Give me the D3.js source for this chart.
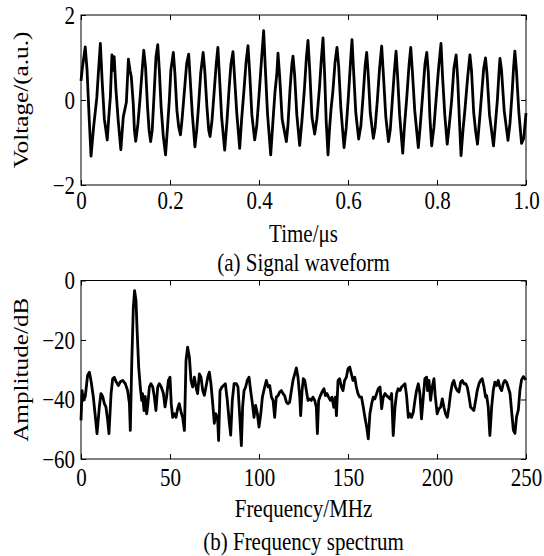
<!DOCTYPE html>
<html><head><meta charset="utf-8">
<script src="https://cdn.jsdelivr.net/npm/d3@7/dist/d3.min.js"></script>
<style>
html,body{margin:0;padding:0;background:#fff;}
text{font-family:"Liberation Serif","Times New Roman",serif;fill:#000;}
</style></head>
<body><svg id="c" width="544" height="556"></svg>
<script>
// ---- (a) Signal waveform ----
const timeUs = [0,.003,.0095,.0135,.0185,.0225,.0285,.0355,.0385,.0435,.0475,.0525,.059,.0625,.066,.0695,.072,.0745,.0785,.0835,.0895,.095,.102,.1065,.11,.113,.1175,.12,.123,.128,.133,.1375,.141,.145,.1495,.153,.1565,.16,.164,.1685,.1725,.176,.18,.185,.19,.1945,.1985,.202,.2075,.211,.2155,.2195,.2235,.227,.232,.2375,.242,.2455,.25,.256,.26,.264,.269,.2745,.278,.283,.287,.29,.2945,.299,.304,.3076,.311,.316,.3229,.328,.333,.337,.3416,.345,.35,.3566,.361,.366,.371,.3753,.379,.384,.3903,.395,.4,.406,.4105,.414,.419,.4263,.431,.436,.44,.4427,.4465,.452,.4615,.465,.47,.474,.4764,.48,.485,.4914,.496,.502,.5065,.5101,.514,.519,.5251,.53,.536,.54,.5439,.5475,.551,.5551,.558,.562,.566,.571,.5753,.579,.584,.5911,.596,.601,.606,.609,.6125,.6175,.624,.629,.634,.6385,.642,.6455,.65,.657,.661,.666,.671,.6757,.6795,.685,.691,.695,.699,.704,.708,.7115,.716,.723,.727,.732,.737,.741,.7445,.75,.758,.762,.768,.773,.777,.7805,.784,.788,.793,.799,.804,.809,.8125,.8175,.823,.8275,.833,.838,.843,.8465,.8505,.854,.8585,.863,.869,.874,.8775,.8825,.887,.891,.895,.9,.905,.909,.9125,.918,.927,.931,.936,.939,.9415,.945,.951,.9595,.964,.969,.972,.975,.9785,.984,.99,.995,1.0];
const voltage = [0.45,0.75,1.25,0.72,-0.45,-1.32,-0.62,0.05,0.55,1.33,0.45,-0.45,-0.94,-0.39,0.08,1.06,0.70,1.02,0.25,-0.47,-1.17,-0.40,-0.05,0.96,0.70,0.55,-0.10,-0.70,-0.97,-0.55,0.08,0.71,1.17,0.78,-0.16,-0.71,-0.98,-0.71,0.08,1.02,1.30,0.71,-0.16,-0.86,-1.29,-0.63,0.00,0.71,1.12,0.63,-0.24,-0.63,-0.82,-0.47,0.16,0.86,1.08,0.47,-0.31,-1.10,-0.71,-0.16,0.63,1.12,0.71,-0.16,-0.71,-0.86,-0.47,0.16,0.86,1.24,0.60,-0.40,-1.18,-0.50,0.30,0.85,1.14,0.55,-0.30,-1.14,-0.45,0.20,0.90,1.28,0.65,-0.35,-0.94,-0.60,0.10,1.00,1.63,0.80,-0.30,-1.29,-0.55,0.20,0.60,1.10,0.55,-0.45,-0.98,-0.60,0.30,0.85,1.03,0.60,-0.35,-1.07,-0.55,0.25,1.00,1.40,0.70,-0.40,-0.80,-0.45,0.30,0.95,1.46,0.60,-0.50,-1.29,-0.75,-0.20,0.20,0.90,1.24,0.80,-0.20,-1.12,-0.65,0.10,0.95,1.42,0.70,-0.30,-0.92,-0.60,0.10,0.80,1.12,0.60,-0.30,-0.90,-0.65,0.00,0.75,1.27,0.60,-0.40,-0.98,-0.70,-0.10,0.65,1.15,0.55,-0.35,-1.25,-0.60,0.05,0.80,1.24,0.70,-0.25,-1.12,-0.65,0.15,0.85,1.12,0.65,-0.40,-1.08,-0.65,0.15,0.80,1.33,0.55,-0.35,-1.04,-0.60,0.00,0.75,1.06,0.50,-0.50,-1.31,-0.70,-0.20,0.55,1.06,0.70,-0.30,-0.75,-1.04,-0.55,0.10,0.75,0.99,0.60,-0.35,-1.08,-0.60,0.05,0.60,0.98,0.70,-0.25,-0.95,-0.55,0.20,0.75,1.15,0.70,-0.30,-1.02,-0.90,-0.31];
const timeTicks = [0,0.2,0.4,0.6,0.8,1.0];
const voltTicks = [-2,0,2];

// ---- (b) Frequency spectrum ----
const freqMHz = [0,0.6,1.3,2.4,3.7,4.7,5.6,6.9,8.1,9.0,10.3,11.2,12.2,13.1,14.0,15.0,15.7,16.9,17.8,18.7,19.7,21.0,22.1,23.4,24.9,26.2,27.2,27.7,28.5,29.4,30.1,30.9,31.6,32.4,33.3,34.1,34.6,35.4,36.1,36.9,37.6,38.4,39.3,40.3,41.2,42.1,43.1,44.0,45.1,46.3,47.2,48.1,49.1,50.0,50.7,51.5,52.4,53.4,54.3,55.2,56.2,57.1,58.1,59.0,59.9,60.9,61.8,62.7,63.7,64.6,65.5,66.5,67.4,68.4,69.3,70.2,71.2,72.1,73.0,74.0,74.9,75.8,76.8,77.3,78.1,79.2,81.1,82.2,83.2,84.1,85.0,86.0,87.3,88.2,89.1,90.1,90.8,91.6,92.5,93.4,94.4,95.3,96.3,97.2,98.1,99.1,100.0,101.0,101.9,103.2,104.1,105.1,106.0,107.0,107.9,108.8,109.7,110.7,111.6,112.6,113.5,114.4,115.4,116.3,117.2,118.2,119.1,120.1,121.0,121.9,122.9,123.4,124.2,124.9,125.7,126.6,127.5,128.5,129.4,130.3,131.3,132.2,132.8,133.5,134.5,135.4,136.5,137.3,138.2,139.1,140.1,141.0,142.0,142.9,143.5,144.4,145.3,146.3,147.2,148.1,149.1,150.0,151.0,151.9,152.8,153.8,154.7,155.6,156.6,157.6,158.6,159.5,160.5,161.4,162.3,163.3,164.2,165.1,166.1,167.0,168.0,168.9,169.8,170.8,171.7,172.6,173.6,174.5,175.4,176.4,177.3,178.2,179.2,180.1,181.0,182.0,182.9,183.9,184.8,185.7,186.7,187.6,188.5,189.5,190.4,191.3,192.3,193.2,194.2,194.7,195.5,196.4,197.3,198.3,199.0,200.1,201.1,202.0,203.0,203.9,204.8,205.8,206.7,207.6,208.6,209.5,210.4,211.4,212.3,213.3,214.2,215.1,216.1,217.0,217.9,218.9,219.8,220.7,221.7,222.6,223.6,224.5,225.4,226.4,227.3,227.9,228.8,229.7,230.7,231.6,232.5,233.5,234.4,235.3,236.3,237.2,238.1,239.1,241.0,242.9,243.8,244.7,245.7,246.6,247.5,248.5,250.0];
const amplitudeDb = [-47,-37,-40.3,-39,-31.9,-30.8,-33.6,-39,-46,-51.5,-42.5,-38,-39,-41.4,-42.5,-47,-51.5,-38,-33,-32.5,-34,-35.3,-34,-33.6,-34.7,-37,-41.4,-50.4,-28,-9,-3.4,-6.7,-18,-29,-35.8,-40.3,-38,-43.7,-39,-44.8,-41.4,-35.8,-34.7,-35.8,-39,-43.7,-35.8,-34.7,-35.8,-38,-42.5,-39,-33.6,-32.5,-41.4,-46,-44.8,-46,-43,-41.4,-44.2,-46,-50.4,-26.9,-22.4,-25.8,-33.6,-35.8,-32.5,-35.8,-38,-31.4,-32.5,-37,-38.6,-35.8,-32.5,-30.8,-34.7,-41.4,-48,-44.8,-47,-53.8,-37,-35.8,-34.7,-40.3,-47,-52,-40.3,-34.7,-34.7,-35.8,-44.8,-55.5,-42.6,-37,-35.8,-33.6,-32.5,-37,-41.4,-46,-42,-44.8,-49.3,-44.8,-39.2,-35.8,-33.6,-35.8,-35.3,-39.2,-40.3,-46,-39.2,-38.7,-37.5,-37,-38,-38.7,-40.9,-41.4,-40.9,-37,-33.6,-31.4,-29.4,-32.5,-39.2,-45.4,-37,-33,-33.6,-37,-40.3,-39.8,-40.3,-39.2,-40.3,-42.6,-51.5,-40.3,-38.7,-37.5,-36.4,-38.7,-38,-39.2,-40.3,-39.2,-42.6,-39.2,-45.4,-33.6,-33,-35.8,-37,-33.6,-32.5,-29.7,-29.1,-31.4,-33.6,-32.5,-35.8,-38,-39.2,-39.2,-42.6,-46,-49.3,-53.2,-44.8,-41.4,-39.2,-39.8,-38,-36.4,-35.8,-43.1,-39.2,-38,-38.7,-39.2,-39.8,-38,-52.1,-42.6,-38,-36.4,-37,-35.8,-35.3,-34.7,-38.7,-46,-44.8,-46,-44.3,-40.3,-37,-34.7,-38,-46.5,-39.2,-33,-32.5,-37,-33.6,-40.3,-35.8,-33,-38.7,-44.8,-43.1,-42.6,-39.8,-42.6,-44.8,-46,-42.6,-38,-34.7,-33.6,-35.8,-37,-37.5,-34.2,-33.6,-34.7,-34.7,-35.8,-38.7,-42.6,-43.1,-43.7,-40.3,-37,-34.7,-33.6,-33,-35.8,-39.2,-38.7,-42.6,-52.1,-42.6,-37,-34.2,-35.3,-33.6,-35.8,-37,-34.7,-33.6,-34.2,-37.9,-50.3,-51.4,-45.8,-43.5,-36.8,-33.4,-32.3,-33.4];
const freqTicks = [0,50,100,150,200,250];
const dbTicks = [0,-20,-40,-60];

const FS = 21, SY = 1.2;
const svg = d3.select("#c");
svg.append("rect").attr("width",544).attr("height",556).attr("fill","#fff");

function label(g, x, y, str, rot){
  g.append("text")
    .attr("transform", `translate(${x},${y}) scale(1,${SY})` + (rot ? " rotate(-90)" : ""))
    .attr("text-anchor","middle").style("font-size",FS+"px").text(str);
}

function panel(cfg){
  const {x0,x1,y0,y1,xDom,yDom,xT,yT,xFmt,yFmt,xs,ys,xLab,yLab,cap,xLabY,capY,yLabX,xPad} = cfg;
  const x = d3.scaleLinear().domain(xDom).range([x0,x1]);
  const y = d3.scaleLinear().domain(yDom).range([y1,y0]);
  const g = svg.append("g");
  const style = a => {
    a.select(".domain").remove();
    a.selectAll(".tick line").attr("stroke","#000").attr("stroke-width",1);
    a.selectAll(".tick text").style("font-size",FS+"px")
      .style("font-family",'"Liberation Serif","Times New Roman",serif').attr("fill","#000")
      .attr("transform",`scale(1,${SY})`);
  };
  g.append("g").attr("transform",`translate(0,${y1})`)
    .call(d3.axisBottom(x).tickValues(xT).tickFormat(xFmt).tickSize(-5).tickSizeOuter(0).tickPadding(xPad)).call(style);
  g.append("g").attr("transform",`translate(0,${y0})`)
    .call(d3.axisTop(x).tickValues(xT).tickFormat("").tickSize(-5).tickSizeOuter(0)).call(style);
  g.append("g").attr("transform",`translate(${x0},0)`)
    .call(d3.axisLeft(y).tickValues(yT).tickFormat(yFmt).tickSize(-5).tickSizeOuter(0).tickPadding(6)).call(style);
  g.append("g").attr("transform",`translate(${x1},0)`)
    .call(d3.axisRight(y).tickValues(yT).tickFormat("").tickSize(-5).tickSizeOuter(0)).call(style);
  g.append("rect").attr("x",x0).attr("y",y0).attr("width",x1-x0).attr("height",y1-y0)
    .attr("fill","none").attr("stroke","#000").attr("stroke-width",1);
  const line = d3.line().x((d,i)=>x(xs[i])).y((d,i)=>y(ys[i]));
  g.append("path").datum(xs).attr("d",line).attr("fill","none").attr("stroke","#000")
    .attr("stroke-width",2.8).attr("stroke-linejoin","round");
  label(g,(x0+x1)/2,xLabY,xLab,false);
  label(g,(x0+x1)/2,capY,cap,false);
  label(g,yLabX,(y0+y1)/2,yLab,true);
}
const fmtNum = d => d===0 ? "0" : d3.format(".1f")(d);
panel({x0:81,x1:526,y0:15,y1:185,xDom:[0,1],yDom:[-2,2],xT:timeTicks,yT:voltTicks,
  xFmt:fmtNum,yFmt:d3.format("d"),xs:timeUs,ys:voltage,xPad:5,
  xLab:"Time/μs",yLab:"Voltage/(a.u.)",cap:"(a) Signal waveform",xLabY:242,capY:271,yLabX:28});
panel({x0:81,x1:526,y0:280.5,y1:459,xDom:[0,250],yDom:[-60,0],xT:freqTicks,yT:dbTicks,
  xFmt:d3.format("d"),yFmt:d3.format("d"),xs:freqMHz,ys:amplitudeDb,xPad:8,
  xLab:"Frequency/MHz",yLab:"Amplitude/dB",cap:"(b) Frequency spectrum",xLabY:517,capY:550,yLabX:28});
</script></body></html>
